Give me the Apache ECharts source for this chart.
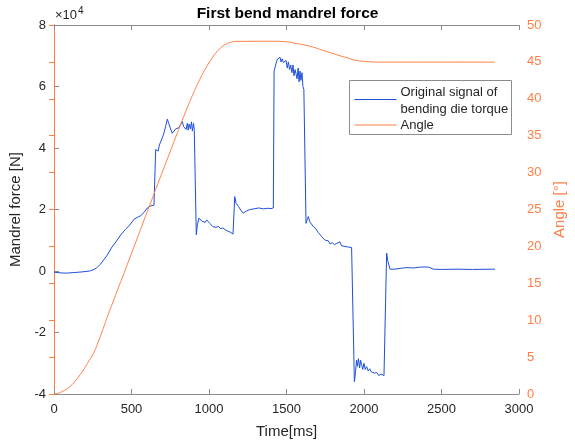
<!DOCTYPE html>
<html>
<head>
<meta charset="utf-8">
<script src="https://cdn.jsdelivr.net/npm/echarts@6/dist/echarts.min.js"></script>
<style>
  html, body { margin: 0; padding: 0; background: #fff; }
  #chart { width: 575px; height: 440px; }
</style>
</head>
<body>
<div id="chart"></div>
<script>
// Mandrel force signal: [time ms, force N]
const forceSignal = [
  [0,-400],[40,-600],[80,-700],[130,-500],[180,-300],[230,0],[258,500],[275,1000],
  [300,2200],[320,3600],[344,5200],[370,7500],[400,9500],[430,11700],[460,13500],
  [490,15000],[516,16800],[540,17500],[559,18000],[580,19000],[602,20500],[625,21200],
  [645,21400],[652,21000],[656,39500],[665,40000],[672,39000],[680,41000],[690,41000],
  [700,43500],[710,45000],[720,47000],[731,49400],[740,48000],[750,46500],[763,44800],
  [775,45500],[785,46200],[795,46000],[806,46600],[818,47200],[828,48600],[836,47000],
  [845,47600],[852,46000],[860,48000],[866,45800],[872,47800],[880,46200],[887,48500],
  [893,45500],[900,48000],[905,46000],[912,45500],[918,11800],[925,15000],[935,17200],
  [945,16800],[955,16200],[965,16400],[975,15800],[985,16600],[995,16000],[1005,15500],
  [1015,15000],[1025,14400],[1035,14700],[1045,14200],[1060,14500],[1075,13800],
  [1090,14000],[1105,13400],[1120,13000],[1135,12700],[1145,13000],[1155,12000],
  [1160,11800],[1166,24200],[1175,22000],[1190,21000],[1205,19800],[1221,18800],
  [1240,19500],[1265,20000],[1290,20200],[1320,20500],[1350,20200],[1380,20400],
  [1400,20300],[1415,20500],[1420,65000],[1430,67000],[1440,68800],[1450,68500],
  [1458,69500],[1465,68000],[1472,69000],[1480,67800],[1490,67500],[1497,68500],
  [1505,66000],[1512,68000],[1520,65500],[1527,67000],[1535,64500],[1542,67000],
  [1548,63500],[1555,65500],[1562,64000],[1568,62500],[1575,66000],[1581,61500],
  [1587,65000],[1593,62000],[1600,64500],[1606,60000],[1612,59000],[1620,58500],
  [1626,15500],[1635,17000],[1641,17700],[1650,16000],[1660,16500],[1672,14500],
  [1685,14000],[1695,13300],[1705,12500],[1716,12800],[1727,11200],[1738,10600],
  [1750,10000],[1760,9500],[1770,9800],[1781,8800],[1795,9200],[1810,8600],[1825,9000],
  [1835,8400],[1845,9500],[1855,8200],[1866,8800],[1877,8000],[1888,8600],[1898,7800],
  [1910,8300],[1920,7600],[1931,7800],[1938,-36000],[1945,-33000],[1952,-29000],
  [1958,-31000],[1964,-28500],[1972,-31500],[1978,-29000],[1985,-30500],[1992,-32000],
  [2000,-30000],[2008,-32000],[2017,-31100],[2027,-32500],[2037,-31800],[2047,-32800],
  [2057,-32200],[2067,-33200],[2082,-33000],[2095,-34000],[2110,-33500],[2129,-34000],
  [2146,5800],[2155,3000],[2168,600],[2200,600],[2240,900],[2275,1100],[2320,1000],
  [2370,1300],[2415,1300],[2447,600],[2500,500],[2600,600],[2700,500],[2845,600]
];

// Bending angle: [time ms, angle deg]
const angleSignal = [
  [0,0],[17,0.05],[50,0.3],[103,1.0],[150,2.1],[189,3.25],[220,4.3],[254,5.5],
  [290,7.3],[318,8.9],[350,10.8],[383,12.6],[415,14.4],[447,16.1],[490,18.5],
  [530,20.7],[576,23.3],[620,25.7],[670,28.5],[727,31.6],[774,34.2],[820,36.7],
  [860,38.8],[900,40.8],[940,42.6],[975,44.0],[1010,45.2],[1040,46.1],[1075,46.9],
  [1110,47.4],[1140,47.65],[1180,47.78],[1400,47.8],[1484,47.75],[1550,47.55],
  [1613,47.3],[1673,47.0],[1730,46.6],[1790,46.2],[1850,45.8],[1900,45.5],
  [1950,45.2],[2017,45.05],[2060,45.0],[2103,44.97],[2845,44.97]
];

const timeTicks = { min: 0, max: 3000, step: 500 };
const forceTicks = { min: -40000, max: 80000, step: 20000 };
const angleTicks = { min: 0, max: 50, step: 5 };

const seriesNames = ['Original signal of\nbending die torque', 'Angle'];

const BLUE = '#1f4fdc';
const ORANGE = '#ff7f45';
const AXIS_GRAY = '#8c8c8c';
const TEXT = '#262626';
const FONT = 'Liberation Sans, Arial, sans-serif';

const chart = echarts.init(document.getElementById('chart'), null, { renderer: 'canvas' });

const gridBox = { left: 54, top: 25, right: 56, bottom: 46, outerBoundsMode: 'none', containLabel: false };

// ticks drawn towards the plot interior
const innerTick = color => ({ show: true, inside: true, length: 5, lineStyle: { color } });

chart.setOption({
  animation: false,
  backgroundColor: '#ffffff',
  title: {
    text: 'First bend mandrel force',
    left: 'center',
    top: 6,
    padding: 0,
    textStyle: { fontFamily: FONT, fontSize: 15.5, fontWeight: 'bold', color: '#000' }
  },
  grid: gridBox,
  xAxis: [{
    type: 'value',
    min: timeTicks.min, max: timeTicks.max, interval: timeTicks.step,
    name: 'Time[ms]',
    nameLocation: 'middle',
    nameGap: 30,
    nameTextStyle: { fontFamily: FONT, fontSize: 15, color: TEXT },
    axisLine: { show: true, onZero: false, lineStyle: { color: AXIS_GRAY, width: 1 } },
    axisTick: innerTick(AXIS_GRAY),
    axisLabel: { fontFamily: FONT, fontSize: 13, color: TEXT, margin: 9, formatter: v => String(v) },
    splitLine: { show: false }
  }, {
    type: 'value',
    position: 'top',
    min: timeTicks.min, max: timeTicks.max, interval: timeTicks.step,
    axisLine: { show: true, onZero: false, lineStyle: { color: AXIS_GRAY, width: 1 } },
    axisTick: innerTick(AXIS_GRAY),
    axisLabel: { show: false },
    splitLine: { show: false }
  }],
  yAxis: [{
    type: 'value',
    position: 'left',
    min: forceTicks.min, max: forceTicks.max, interval: forceTicks.step,
    name: 'Mandrel force [N]',
    nameLocation: 'middle',
    nameGap: 25,
    nameTextStyle: { fontFamily: FONT, fontSize: 15, color: TEXT },
    axisLine: { show: true, onZero: false, lineStyle: { color: AXIS_GRAY, width: 1 } },
    axisTick: innerTick(AXIS_GRAY),
    axisLabel: {
      fontFamily: FONT, fontSize: 13, color: TEXT, margin: 8,
      formatter: v => String(Math.round(v / 1e4))
    },
    splitLine: { show: false }
  }, {
    type: 'value',
    position: 'right',
    min: angleTicks.min, max: angleTicks.max, interval: angleTicks.step,
    name: 'Angle [°]',
    nameLocation: 'middle',
    nameGap: 33,
    nameRotate: 90,
    nameTextStyle: { fontFamily: FONT, fontSize: 15, color: ORANGE },
    axisLine: { show: true, lineStyle: { color: ORANGE, width: 1 } },
    axisTick: innerTick(ORANGE),
    axisLabel: { fontFamily: FONT, fontSize: 13, color: ORANGE, margin: 8 },
    splitLine: { show: false }
  }],
  series: [{
    name: seriesNames[0],
    type: 'line',
    xAxisIndex: 0,
    yAxisIndex: 0,
    data: forceSignal,
    showSymbol: false,
    lineStyle: { color: BLUE, width: 1 },
    itemStyle: { color: BLUE },
    z: 2
  }, {
    name: seriesNames[1],
    type: 'line',
    xAxisIndex: 0,
    yAxisIndex: 1,
    data: angleSignal,
    smooth: 0.5,
    showSymbol: false,
    lineStyle: { color: ORANGE, width: 1 },
    itemStyle: { color: ORANGE },
    z: 3
  }],
  graphic: [
    // exponent for the force axis
    {
      type: 'text',
      left: 55, top: 6,
      style: {
        text: '×10{sup|4}',
        fontFamily: FONT, fontSize: 13, fill: TEXT,
        rich: { sup: { fontFamily: FONT, fontSize: 10, fill: TEXT, verticalAlign: 'top', padding: [0, 0, 8, 1] } }
      }
    },
    // legend box
    {
      type: 'group',
      left: 349, top: 80,
      children: [
        { type: 'rect', shape: { x: 0, y: 0, width: 162, height: 54 },
          style: { fill: '#fff', stroke: '#8c8c8c', lineWidth: 1 } },
        { type: 'line', shape: { x1: 5, y1: 19, x2: 47, y2: 19 },
          style: { stroke: BLUE, lineWidth: 1 } },
        { type: 'text', x: 51, y: 4,
          style: { text: seriesNames[0], fontFamily: FONT, fontSize: 13, fill: TEXT, lineHeight: 16.5 } },
        { type: 'line', shape: { x1: 5, y1: 44.5, x2: 47, y2: 44.5 },
          style: { stroke: ORANGE, lineWidth: 1 } },
        { type: 'text', x: 51, y: 37,
          style: { text: seriesNames[1], fontFamily: FONT, fontSize: 13, fill: TEXT, lineHeight: 16.5 } }
      ]
    }
  ]
});
</script>
</body>
</html>
